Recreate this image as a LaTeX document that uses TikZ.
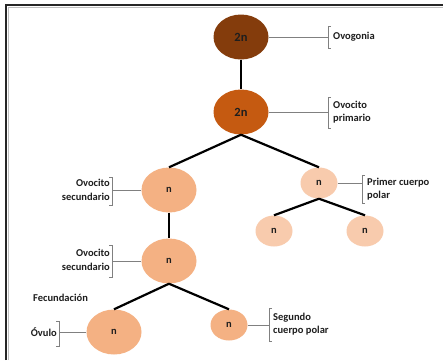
\documentclass[tikz,border=0pt]{standalone}
\usepackage{fontspec}
\setmainfont{Carlito}
\usetikzlibrary{shapes.geometric}
\definecolor{cA}{HTML}{843C0C}
\definecolor{cB}{HTML}{C55A11}
\definecolor{cC}{HTML}{F4B183}
\definecolor{cD}{HTML}{F8CBAD}
\definecolor{txt}{HTML}{1E1E1E}
\begin{document}
\begin{tikzpicture}[x=1pt,y=-1pt,
  cell/.style={ellipse, inner sep=0pt, font=\bfseries\fontsize{10.5}{12}\selectfont, text=txt},
  big/.style={cell, minimum width=55pt, minimum height=45pt},
  small/.style={cell, minimum width=37pt, minimum height=31pt},
  tree/.style={line width=2.2pt, black},
  lead/.style={draw=gray, line width=0.9pt},
  lab/.style={font=\bfseries\fontsize{10.5}{13.5}\selectfont, text=txt, inner sep=0pt}]
\useasboundingbox (0,0) rectangle (443,360);
\fill[white] (0,0) rectangle (443,360);
% frame
\draw[black!85, line width=2pt] (6,360) -- (6,5) -- (443,5);
\draw[gray!50, line width=0.6pt] (8.5,360) -- (8.5,7.5) -- (443,7.5);
% cells
\node[big, fill=cA, font=\bfseries\fontsize{12.5}{13}\selectfont] (o1) at (241,37) {2n};
\node[big, fill=cB, font=\bfseries\fontsize{12.5}{13}\selectfont] (o2) at (241,112) {2n};
\node[big, fill=cC] (o3) at (169,190) {n};
\node[small, fill=cD] (o4) at (319,183) {n};
\node[small, fill=cD] (o5) at (274,231) {n};
\node[small, fill=cD] (o6) at (365,231) {n};
\node[big, fill=cC] (o7) at (169,261) {n};
\node[big, fill=cC] (o8) at (114,332) {n};
\node[small, fill=cC] (o9) at (229,325) {n};
% tree
\draw[tree] (o1.south) -- (o2.north);
\draw[tree] (o2.south) -- (o3.north);
\draw[tree] (o2.south) -- (o4.north);
\draw[tree] (o4.south) -- (o5.north);
\draw[tree] (o4.south) -- (o6.north);
\draw[tree] (o3.south) -- (o7.north);
\draw[tree] (o7.south) -- (o8.north);
\draw[tree] (o7.south) -- (o9.north);
% labels
\coordinate (b1) at (328,37);
\draw[lead] (o1.east) -- (b1);
\draw[lead] (331,26) -- (328,26) -- (328,48) -- (331,48);
\node[lab, anchor=west] (l1) at (333,37) {Ovogonia};

\coordinate (b2) at (328,112);
\draw[lead] (o2.east) -- (b2);
\draw[lead] (331,97) -- (328,97) -- (328,128) -- (331,128);
\node[lab, anchor=west, align=left] (l2) at (333,112) {Ovocito\\primario};

\coordinate (b3) at (112,190);
\draw[lead] (o3.west) -- (b3);
\draw[lead] (109,177) -- (112,177) -- (112,205) -- (109,205);
\node[lab, anchor=east, align=right] (l3) at (110,190) {Ovocito\\secundario};

\coordinate (b4) at (362,183);
\draw[lead] (o4.east) -- (b4);
\draw[lead] (365,175) -- (362,175) -- (362,203) -- (365,203);
\node[lab, anchor=west, align=left] (l4) at (367,189) {Primer cuerpo\\polar};

\coordinate (b7) at (112,261);
\draw[lead] (o7.west) -- (b7);
\draw[lead] (109,245) -- (112,245) -- (112,277) -- (109,277);
\node[lab, anchor=east, align=right] (l7) at (110,260) {Ovocito\\secundario};

\node[lab, anchor=west] (fec) at (33,298) {Fecundación};

\coordinate (b8) at (59,332);
\draw[lead] (o8.west) -- (b8);
\draw[lead] (56,321) -- (59,321) -- (59,346) -- (56,346);
\node[lab, anchor=east] (l8) at (57,332) {Óvulo};

\coordinate (b9) at (269,325);
\draw[lead] (o9.east) -- (b9);
\draw[lead] (272,308) -- (269,308) -- (269,341) -- (272,341);
\node[lab, anchor=west, align=left] (l9) at (273,324) {Segundo\\cuerpo polar};
\end{tikzpicture}
\end{document}
